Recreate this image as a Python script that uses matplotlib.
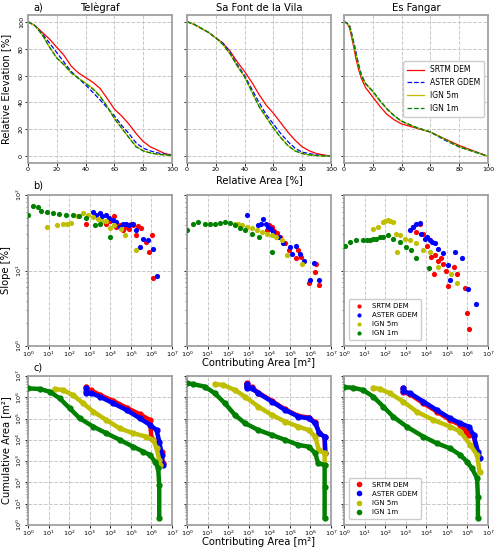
import numpy as np
import matplotlib
matplotlib.use("Agg")
import matplotlib.pyplot as plt

SITES = ["Telègraf", "Sa Font de la Vila", "Es Fangar"]
SERIES = ["SRTM DEM", "ASTER GDEM", "IGN 5m", "IGN 1m"]
COLORS = ["#ff0000", "#0000ff", "#bfbf00", "#008000"]
STYLES = ["-", "--", "-", "--"]

# ---- a) hypsometric curves: relative area [%] vs relative elevation [%]
TEL_A_X = [0, 5, 10, 15, 20, 25, 30, 35, 40, 45, 50, 55, 60, 65, 70, 75, 80, 85, 90, 95, 100]
TEL_A_SRTM = [100, 97, 92, 87, 81, 75, 67, 62, 58.5, 55, 50.5, 43, 35, 30, 24, 17, 11, 7, 4.5, 2, 1]
TEL_A_ASTER = [100, 97, 91, 84, 77, 70, 63, 58, 53, 47.5, 42, 36, 30, 23, 17, 10, 6, 4, 2.5, 1.5, 1]
TEL_A_IGN5 = [100, 97, 90, 81, 73, 68, 62, 58, 54.5, 50.5, 45, 37, 28, 21, 14, 7.5, 4, 2.5, 1.5, 1, 0.5]
TEL_A_IGN1 = [100, 97, 90, 81, 73, 68, 62, 58, 54, 50, 44.5, 37, 28, 21, 14, 7, 4, 2.5, 1.5, 1, 0.5]

SFV_A_X = [0, 5, 10, 15, 20, 25, 30, 35, 40, 45, 50, 55, 60, 65, 70, 75, 80, 85, 90, 95, 100]
SFV_A_SRTM = [100, 98, 95, 92, 88, 84, 78, 70, 63, 55, 46, 38, 32, 25, 18, 12, 7, 4, 2, 1, 0]
SFV_A_ASTER = [100, 98, 95, 92, 88, 84, 77, 68, 60, 50, 40, 31, 24, 17, 11, 6, 3, 2, 1, 0.5, 0]
SFV_A_IGN5 = [100, 98, 95, 92, 88, 83, 76, 67, 59, 48, 37, 29, 21, 14, 8, 4, 2, 1, 0.5, 0.2, 0]
SFV_A_IGN1 = [100, 98, 95, 92, 88, 83, 76, 67, 59, 48, 37, 29, 21, 14, 8, 4, 2, 1, 0.5, 0.2, 0]

ESF_A_X = [0, 2, 4, 5, 6, 7, 8, 10, 12, 15, 20, 25, 30, 35, 40, 50, 60, 70, 80, 90, 100]
ESF_A_SRTM = [100, 99, 95, 90, 85, 80, 74, 65, 58, 51, 44, 37, 31, 27, 24, 21, 18, 13, 8, 4, 0]
ESF_A_ASTER = [100, 99, 97, 93, 88, 84, 79, 69, 61, 54, 48, 41, 35, 30, 26, 21.5, 18, 12, 7, 3.5, 0]
ESF_A_IGN5 = [100, 99, 96, 92, 87, 82, 77, 68, 60, 54, 48, 41, 35, 30, 26, 21.5, 18, 12.5, 7, 3.5, 0]
ESF_A_IGN1 = [100, 99, 96, 92, 87, 82, 77, 68, 60, 54, 48.5, 41.5, 35, 30, 26, 21.5, 18, 12.5, 7, 3.5, 0]

# ---- b) slope [%] vs contributing area [m2] (log10 exponents read off the plot)
TEL_B_SRTM_LA = [2.84, 3.8, 4.0, 4.2, 4.3, 4.45, 4.6, 4.75, 4.9, 5.0, 5.1, 5.27, 5.35, 5.5, 5.75, 5.9, 6.03, 6.08]
TEL_B_SRTM_LS = [1.62, 1.62, 1.66, 1.72, 1.58, 1.6, 1.54, 1.57, 1.55, 1.62, 1.6, 1.47, 1.59, 1.56, 1.38, 1.25, 1.47, 0.9]
TEL_B_ASTER_LA = [3.16, 3.3, 3.48, 3.6, 3.8, 3.95, 4.13, 4.3, 4.46, 4.6, 4.78, 4.9, 5.1, 5.27, 5.43, 5.6, 5.83, 6.08, 6.27]
TEL_B_ASTER_LS = [1.78, 1.74, 1.76, 1.72, 1.73, 1.7, 1.67, 1.64, 1.58, 1.62, 1.62, 1.6, 1.62, 1.54, 1.31, 1.42, 1.41, 1.28, 0.93]
TEL_B_IGN5_LA = [0.9, 1.4, 1.7, 1.9, 2.1, 2.4, 2.67, 2.9, 3.16, 3.4, 3.6, 3.8, 3.97, 4.2, 4.5, 4.7, 5.27]
TEL_B_IGN5_LS = [1.58, 1.6, 1.62, 1.62, 1.63, 1.72, 1.76, 1.74, 1.71, 1.68, 1.66, 1.65, 1.56, 1.6, 1.55, 1.47, 1.27]
TEL_B_IGN1_LA = [0.0, 0.24, 0.5, 0.65, 0.9, 1.2, 1.5, 1.86, 2.2, 2.5, 2.84, 3.24, 3.5, 3.97]
TEL_B_IGN1_LS = [1.74, 1.85, 1.84, 1.79, 1.78, 1.76, 1.75, 1.74, 1.73, 1.72, 1.7, 1.6, 1.62, 1.45]

SFV_B_SRTM_LA = [3.88, 4.0, 4.12, 4.25, 4.37, 4.5, 4.77, 4.94, 5.3, 5.42, 5.55, 5.94, 6.2, 6.27, 6.4]
SFV_B_SRTM_LS = [1.54, 1.6, 1.57, 1.52, 1.5, 1.45, 1.36, 1.27, 1.16, 1.27, 1.18, 0.84, 0.98, 1.08, 0.81]
SFV_B_ASTER_LA = [2.9, 3.47, 3.6, 3.7, 3.85, 3.96, 4.1, 4.2, 4.45, 4.69, 5.0, 5.1, 5.3, 5.5, 5.67, 6.0, 6.15, 6.4]
SFV_B_ASTER_LS = [1.74, 1.6, 1.62, 1.68, 1.62, 1.58, 1.55, 1.51, 1.44, 1.36, 1.31, 1.22, 1.32, 1.22, 1.12, 0.87, 1.1, 0.88]
SFV_B_IGN5_LA = [2.33, 2.5, 2.65, 2.9, 3.14, 3.4, 3.63, 3.9, 4.12, 4.35, 4.6, 4.85, 5.59]
SFV_B_IGN5_LS = [1.62, 1.62, 1.6, 1.58, 1.56, 1.54, 1.51, 1.49, 1.47, 1.44, 1.4, 1.2, 1.09]
SFV_B_IGN1_LA = [0.0, 0.29, 0.54, 0.86, 1.1, 1.35, 1.6, 1.84, 2.1, 2.33, 2.6, 2.82, 3.14, 3.5, 4.12]
SFV_B_IGN1_LS = [1.54, 1.62, 1.64, 1.62, 1.62, 1.62, 1.63, 1.64, 1.63, 1.6, 1.56, 1.53, 1.49, 1.44, 1.25]

ESF_B_SRTM_LA = [3.36, 3.52, 3.68, 3.84, 4.04, 4.25, 4.36, 4.4, 4.57, 4.73, 4.81, 4.97, 5.06, 5.33, 5.49, 5.87, 5.96, 6.08]
ESF_B_SRTM_LS = [1.58, 1.51, 1.61, 1.49, 1.33, 1.18, 0.96, 1.2, 1.13, 1.16, 1.09, 0.99, 0.8, 1.05, 0.96, 0.77, 0.44, 0.22]
ESF_B_ASTER_LA = [3.19, 3.36, 3.52, 3.68, 3.76, 3.92, 4.05, 4.17, 4.3, 4.4, 4.57, 4.81, 5.06, 5.17, 5.38, 5.74, 6.03, 6.4]
ESF_B_ASTER_LS = [1.54, 1.58, 1.62, 1.63, 1.49, 1.42, 1.44, 1.4, 1.38, 1.36, 1.28, 1.23, 1.07, 0.87, 1.24, 1.16, 0.76, 0.55]
ESF_B_IGN5_LA = [1.41, 1.65, 1.9, 2.0, 2.14, 2.25, 2.38, 2.54, 2.58, 2.71, 2.95, 3.19, 3.52, 3.84, 4.17, 4.57, 5.22, 5.49]
ESF_B_IGN5_LS = [1.55, 1.58, 1.64, 1.66, 1.67, 1.66, 1.64, 1.49, 1.24, 1.47, 1.42, 1.4, 1.36, 1.27, 1.24, 1.05, 0.95, 0.84]
ESF_B_IGN1_LA = [0.06, 0.28, 0.6, 0.92, 1.1, 1.25, 1.4, 1.57, 1.75, 1.9, 2.14, 2.38, 2.71, 3.03, 3.27, 3.52, 4.13]
ESF_B_IGN1_LS = [1.32, 1.38, 1.4, 1.4, 1.41, 1.41, 1.42, 1.42, 1.44, 1.45, 1.47, 1.42, 1.38, 1.31, 1.27, 1.16, 1.03]

# ---- c) cumulative area [m2] vs contributing area [m2] (log10 exponents)
TEL_C_SRTM_LA = [2.84, 2.84, 3.08, 3.49, 4.14, 4.79, 5.44, 5.93, 6.0, 6.25, 6.49, 6.54]
TEL_C_SRTM_LC = [6.5, 6.3, 6.32, 6.11, 5.83, 5.51, 5.2, 4.93, 4.07, 3.95, 3.45, 2.9]
TEL_C_ASTER_LA = [2.84, 2.84, 3.08, 3.49, 4.14, 4.79, 5.44, 5.93, 6.25, 6.38, 6.51, 6.54]
TEL_C_ASTER_LC = [6.42, 6.2, 6.19, 6.03, 5.72, 5.4, 5.01, 4.7, 4.46, 3.92, 3.29, 2.82]
TEL_C_IGN5_LA = [1.3, 1.7, 2.19, 2.68, 3.17, 3.81, 4.46, 5.11, 5.76, 6.09, 6.25, 6.38, 6.41]
TEL_C_IGN5_LC = [6.39, 6.34, 6.1, 5.72, 5.33, 4.93, 4.54, 4.31, 4.15, 4.0, 3.6, 3.06, 2.82]
TEL_C_IGN1_LA = [0.0, 0.57, 1.06, 1.54, 2.03, 2.52, 3.17, 3.81, 4.46, 5.11, 5.6, 5.93, 6.17, 6.33, 6.38, 6.38]
TEL_C_IGN1_LC = [6.42, 6.39, 6.26, 5.95, 5.48, 5.01, 4.62, 4.31, 4.0, 3.68, 3.45, 3.29, 2.98, 2.66, 1.88, 0.32]

SFV_C_SRTM_LA = [2.9, 2.9, 3.14, 3.47, 4.12, 4.77, 5.42, 5.91, 6.24, 6.43, 6.69, 6.72]
SFV_C_SRTM_LC = [6.66, 6.5, 6.46, 6.22, 5.83, 5.43, 5.12, 5.05, 4.82, 4.31, 4.15, 3.37]
SFV_C_ASTER_LA = [2.9, 2.9, 3.14, 3.47, 4.12, 4.77, 5.42, 5.91, 6.24, 6.43, 6.69, 6.72]
SFV_C_ASTER_LC = [6.62, 6.45, 6.42, 6.19, 5.8, 5.4, 5.09, 5.01, 4.78, 4.31, 4.15, 3.37]
SFV_C_IGN5_LA = [1.35, 1.76, 2.33, 2.82, 3.47, 4.12, 4.77, 5.42, 5.91, 6.24, 6.4, 6.69, 6.69]
SFV_C_IGN5_LC = [6.62, 6.58, 6.34, 6.03, 5.56, 5.17, 4.86, 4.62, 4.46, 4.15, 3.53, 3.37, 2.82]
SFV_C_IGN1_LA = [0.0, 0.29, 0.86, 1.35, 1.84, 2.33, 2.82, 3.47, 4.12, 4.77, 5.42, 5.91, 6.24, 6.37, 6.69, 6.69, 6.69]
SFV_C_IGN1_LC = [6.66, 6.62, 6.5, 6.19, 5.72, 5.17, 4.78, 4.46, 4.23, 4.0, 3.76, 3.68, 3.37, 2.9, 2.82, 1.8, 0.32]

ESF_C_SRTM_LA = [2.88, 2.88, 3.21, 3.86, 4.51, 5.16, 5.65, 5.95, 6.06, 6.3, 6.5]
ESF_C_SRTM_LC = [6.42, 6.25, 6.14, 5.72, 5.33, 4.93, 4.7, 4.39, 4.23, 4.2, 3.29]
ESF_C_ASTER_LA = [2.88, 2.88, 3.21, 3.86, 4.51, 5.16, 5.65, 6.06, 6.3, 6.51, 6.59]
ESF_C_ASTER_LC = [6.42, 6.28, 6.19, 5.8, 5.4, 5.01, 4.78, 4.62, 4.23, 3.45, 3.13]
ESF_C_IGN5_LA = [1.42, 1.74, 2.23, 2.88, 3.53, 4.35, 5.16, 5.65, 6.14, 6.47, 6.59]
ESF_C_IGN5_LC = [6.45, 6.39, 6.19, 5.8, 5.33, 4.93, 4.62, 4.39, 3.76, 3.29, 2.51]
ESF_C_IGN1_LA = [0.0, 0.44, 0.93, 1.42, 1.91, 2.39, 3.05, 3.86, 4.51, 5.16, 5.65, 5.98, 6.22, 6.47, 6.51, 6.51]
ESF_C_IGN1_LC = [6.47, 6.45, 6.34, 6.03, 5.56, 5.09, 4.62, 4.15, 3.84, 3.6, 3.29, 2.98, 2.66, 2.2, 1.3, 0.32]

row_a = [
    (TEL_A_X, [TEL_A_SRTM, TEL_A_ASTER, TEL_A_IGN5, TEL_A_IGN1]),
    (SFV_A_X, [SFV_A_SRTM, SFV_A_ASTER, SFV_A_IGN5, SFV_A_IGN1]),
    (ESF_A_X, [ESF_A_SRTM, ESF_A_ASTER, ESF_A_IGN5, ESF_A_IGN1]),
]
row_b = [
    [(TEL_B_SRTM_LA, TEL_B_SRTM_LS), (TEL_B_ASTER_LA, TEL_B_ASTER_LS),
     (TEL_B_IGN5_LA, TEL_B_IGN5_LS), (TEL_B_IGN1_LA, TEL_B_IGN1_LS)],
    [(SFV_B_SRTM_LA, SFV_B_SRTM_LS), (SFV_B_ASTER_LA, SFV_B_ASTER_LS),
     (SFV_B_IGN5_LA, SFV_B_IGN5_LS), (SFV_B_IGN1_LA, SFV_B_IGN1_LS)],
    [(ESF_B_SRTM_LA, ESF_B_SRTM_LS), (ESF_B_ASTER_LA, ESF_B_ASTER_LS),
     (ESF_B_IGN5_LA, ESF_B_IGN5_LS), (ESF_B_IGN1_LA, ESF_B_IGN1_LS)],
]
row_c = [
    [(TEL_C_SRTM_LA, TEL_C_SRTM_LC), (TEL_C_ASTER_LA, TEL_C_ASTER_LC),
     (TEL_C_IGN5_LA, TEL_C_IGN5_LC), (TEL_C_IGN1_LA, TEL_C_IGN1_LC)],
    [(SFV_C_SRTM_LA, SFV_C_SRTM_LC), (SFV_C_ASTER_LA, SFV_C_ASTER_LC),
     (SFV_C_IGN5_LA, SFV_C_IGN5_LC), (SFV_C_IGN1_LA, SFV_C_IGN1_LC)],
    [(ESF_C_SRTM_LA, ESF_C_SRTM_LC), (ESF_C_ASTER_LA, ESF_C_ASTER_LC),
     (ESF_C_IGN5_LA, ESF_C_IGN5_LC), (ESF_C_IGN1_LA, ESF_C_IGN1_LC)],
]

W, H = 497, 550
fig = plt.figure(figsize=(W / 100, H / 100), dpi=100)

col_left = [28, 187, 344]
col_w = 144
rows_px = [(15, 163), (195, 346), (376, 525)]  # top, bottom in pixels
LABEL_FS = 7.2


def make_ax(col, row):
    top, bot = rows_px[row]
    return fig.add_axes([col_left[col] / W, (H - bot) / H, col_w / W, (bot - top) / H])


def style(ax):
    for sp in ax.spines.values():
        sp.set_color("#a0a0a0")
        sp.set_linewidth(1.3)
    ax.grid(True, which="major", linestyle="--", color="#c8c8c8", linewidth=0.7)
    ax.tick_params(labelsize=4.6, length=2, width=0.6, pad=1)
    ax.tick_params(which="minor", length=1.2, width=0.4)
    for lab in ax.get_yticklabels():
        lab.set_rotation(90)
        lab.set_va("center")


def labels(ax, j, row, ylab, xlab):
    top, bot = rows_px[row]
    h = bot - top
    if j == 0:
        ax.set_ylabel(ylab, fontsize=LABEL_FS)
        ax.yaxis.set_label_coords(-17 / col_w, 0.5)
    if j == 1:
        ax.set_xlabel(xlab, fontsize=LABEL_FS)
        ax.xaxis.set_label_coords(0.5, -12 / h)


# row a
for j, (xs, ys) in enumerate(row_a):
    ax = make_ax(j, 0)
    for k in range(4):
        ax.plot(xs, ys[k], color=COLORS[k], linestyle=STYLES[k], lw=0.9, label=SERIES[k])
    ax.set_xlim(0, 100)
    ax.set_ylim(-5, 105)
    ax.set_xticks([0, 20, 40, 60, 80, 100])
    ax.set_yticks([0, 20, 40, 60, 80, 100])
    ax.set_title(SITES[j], fontsize=LABEL_FS, pad=3)
    if j > 0:
        ax.set_yticklabels([])
    style(ax)
    labels(ax, j, 0, "Relative Elevation [%]", "Relative Area [%]")
    if j == 2:
        ax.legend(loc="center right", fontsize=5.5, handlelength=2.2, borderpad=0.5,
                  labelspacing=0.5, framealpha=1, edgecolor="#cccccc")

# row b
for j, sets in enumerate(row_b):
    ax = make_ax(j, 1)
    for k, (la, ls) in enumerate(sets):
        ax.scatter(10 ** np.array(la), 10 ** np.array(ls), s=14, color=COLORS[k],
                   label=SERIES[k], linewidths=0, zorder=3)
    ax.set_xscale("log")
    ax.set_yscale("log")
    ax.set_xlim(1, 1e7)
    ax.set_ylim(1, 100)
    ax.set_xticks([10.0 ** e for e in range(8)])
    if j > 0:
        ax.set_yticklabels([])
    style(ax)
    labels(ax, j, 1, "Slope [%]", "Contributing Area [m²]")
    if j == 2:
        ax.legend(loc="lower left", bbox_to_anchor=(0.01, 0.02), fontsize=5,
                  markerscale=0.8, handletextpad=0.8, borderpad=0.5, labelspacing=0.45,
                  framealpha=1, edgecolor="#cccccc")

# row c
for j, sets in enumerate(row_c):
    ax = make_ax(j, 2)
    for k, (la, lc) in enumerate(sets):
        ax.plot(10 ** np.array(la), 10 ** np.array(lc), color=COLORS[k], lw=3.2,
                marker="o", ms=3.5, solid_capstyle="round", label=SERIES[k], zorder=3)
    ax.set_xscale("log")
    ax.set_yscale("log")
    ax.set_xlim(1, 1e7)
    ax.set_ylim(1, 1e7)
    ax.set_xticks([10.0 ** e for e in range(8)])
    ax.set_yticks([10.0 ** e for e in range(8)])
    if j > 0:
        ax.set_yticklabels([])
    style(ax)
    labels(ax, j, 2, "Cumulative Area [m²]", "Contributing Area [m²]")
    if j == 2:
        hs = [plt.Line2D([], [], color=COLORS[k], marker="o", ms=3, lw=0) for k in range(4)]
        ax.legend(hs, SERIES, loc="lower left", bbox_to_anchor=(0.01, 0.02), fontsize=5,
                  handletextpad=0.8, borderpad=0.5, labelspacing=0.45,
                  framealpha=1, edgecolor="#cccccc")

fig.text(33 / W, 1 - 7 / H, "a)", fontsize=7, va="center")
fig.text(33 / W, 1 - 186 / H, "b)", fontsize=7, va="center")
fig.text(33 / W, 1 - 368 / H, "c)", fontsize=7, va="center")

fig.savefig("out.png", dpi=100)
